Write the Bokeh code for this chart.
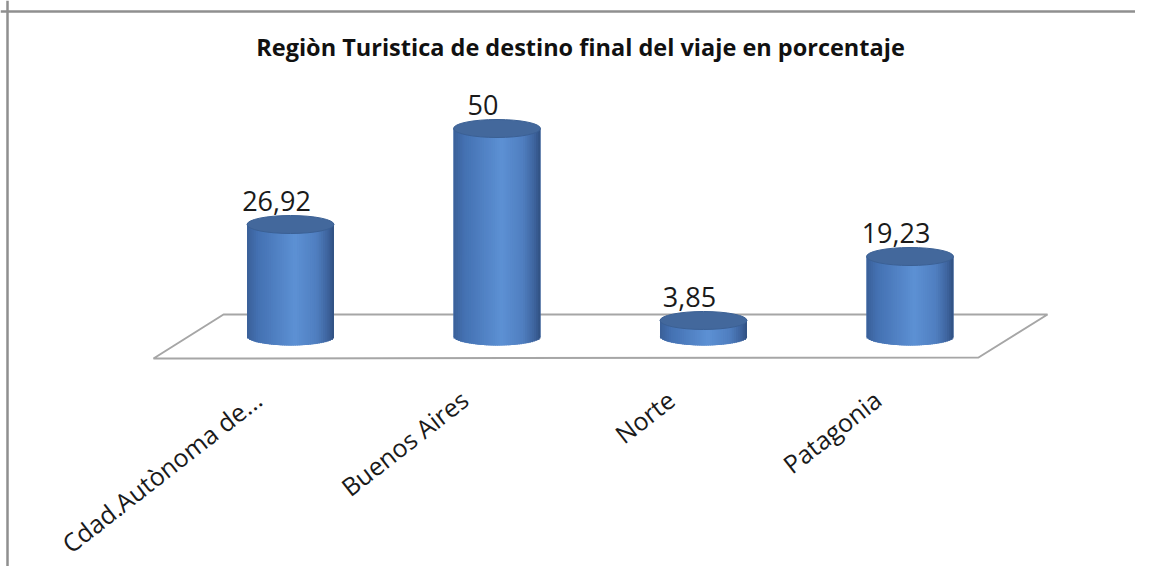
import numpy as np
from bokeh.plotting import figure
from bokeh.models import ColumnDataSource, Range1d, Span
from bokeh.core.properties import value
from bokeh.embed import file_html
from bokeh.resources import INLINE

# ---------------- data ----------------
categories = ["Cdad.Autònoma de...", "Buenos Aires", "Norte", "Patagonia"]
values = [26.92, 50.0, 3.85, 19.23]
value_labels = ["26,92", "50", "3,85", "19,23"]
title_text = "Regiòn Turistica de destino final del viaje en porcentaje"

# ---------------- layout ----------------
W, H = 1135, 566
PX_PER_CAT = 206.5      # horizontal pixels per category step
PX_PER_UNIT = 4.16      # vertical pixels per percent
X0_IMG = 290.0          # image x of first category centre
Y0_IMG = 336.0          # image y of value 0
OFF = 0.0               # offset of the figure within the picture


def dx(img_x):
    return (img_x - X0_IMG) / PX_PER_CAT


def dy(img_y):
    return (Y0_IMG - img_y) / PX_PER_UNIT


x_range = Range1d(dx(OFF), dx(OFF + W))
y_range = Range1d(dy(OFF + H), dy(OFF))

p = figure(width=W, height=H, x_range=x_range, y_range=y_range,
           output_backend="svg", toolbar_location=None,
           min_border=0, min_border_left=0, min_border_right=0,
           min_border_top=0, min_border_bottom=0)
p.axis.visible = False
p.grid.visible = False
p.outline_line_color = None
p.background_fill_color = "white"
p.border_fill_color = "white"

# chart border (top and left visible)
p.add_layout(Span(location=dy(11), dimension="width", line_color="#8f8f8f", line_width=2.5))
p.add_layout(Span(location=dx(7), dimension="height", line_color="#8f8f8f", line_width=2.5))

# floor
floor_x = [dx(153), dx(223), dx(1047), dx(978)]
floor_y = [dy(358), dy(314), dy(314), dy(357)]
p.patch(floor_x, floor_y, fill_color="white", line_color="#a6a6a6", line_width=2)

# cylinders
a = 43.5 / PX_PER_CAT          # half width in data units
b = 9.0 / PX_PER_UNIT          # ellipse half height in data units
N = 40
stops_t = [0.0, 0.12, 0.55, 0.8, 0.93, 1.0]
stops_c = [(58, 96, 152), (68, 113, 178), (93, 145, 212), (80, 127, 192), (62, 100, 158), (48, 80, 128)]


def grad(t):
    r = np.interp(t, stops_t, [c[0] for c in stops_c])
    g = np.interp(t, stops_t, [c[1] for c in stops_c])
    bb = np.interp(t, stops_t, [c[2] for c in stops_c])
    return "#%02x%02x%02x" % (int(r), int(g), int(bb))


xs = list(range(len(values)))

# base body (solid) underneath the gradient strips
p.quad(left=[i - a for i in xs], right=[i + a for i in xs], bottom=[0] * len(xs),
       top=values, fill_color="#4f7fbf", line_color=None)
p.ellipse(x=xs, y=[0] * len(xs), width=2 * a, height=2 * b,
          fill_color="#4f7fbf", line_color=None)

L, R, B, T, C = [], [], [], [], []
for i, v in enumerate(values):
    for k in range(N):
        t0, t1 = k / N, (k + 1) / N
        tm = (t0 + t1) / 2
        u = tm * 2 - 1
        L.append(i - a + 2 * a * t0)
        R.append(min(i + a, i - a + 2 * a * t1 + 1.2 / PX_PER_CAT))
        B.append(-b * np.sqrt(max(0.0, 1 - u * u)))
        T.append(v)
        C.append(grad(tm))
p.quad(left=L, right=R, bottom=B, top=T, fill_color=C, line_color=None)

tops = ColumnDataSource(dict(x=xs, y=values))
p.ellipse(x="x", y="y", width=2 * a, height=2 * b, source=tops,
          fill_color="#43689c", line_color="#3b6094", line_width=1)

# value labels
lab = ColumnDataSource(dict(x=[i - 14 / PX_PER_CAT for i in xs],
                            y=[v + b + 4.5 / PX_PER_UNIT for v in values],
                            t=value_labels))
p.text(x="x", y="y", text="t", source=lab, text_align="center",
       text_baseline="bottom", text_font=value("Open Sans"), text_font_size="27px",
       text_color="#1a1a1a")

# category labels (rotated)
ANG = np.deg2rad(38)
cat = ColumnDataSource(dict(x=[i - 43 / PX_PER_CAT for i in xs],
                            y=[dy(382)] * len(xs), t=categories))
p.text(x="x", y="y", text="t", source=cat, angle=ANG,
       text_align="right", text_baseline="top", text_font=value("Open Sans"),
       text_font_size="25px", text_color="#1a1a1a")

# title
p.text(x=[dx(580)], y=[dy(46)], text=[title_text], text_align="center",
       text_baseline="middle", text_font=value("Open Sans"), text_font_style="bold",
       text_font_size="23.5px", text_color="#111111")

open("out.html", "w").write(file_html(p, INLINE))
